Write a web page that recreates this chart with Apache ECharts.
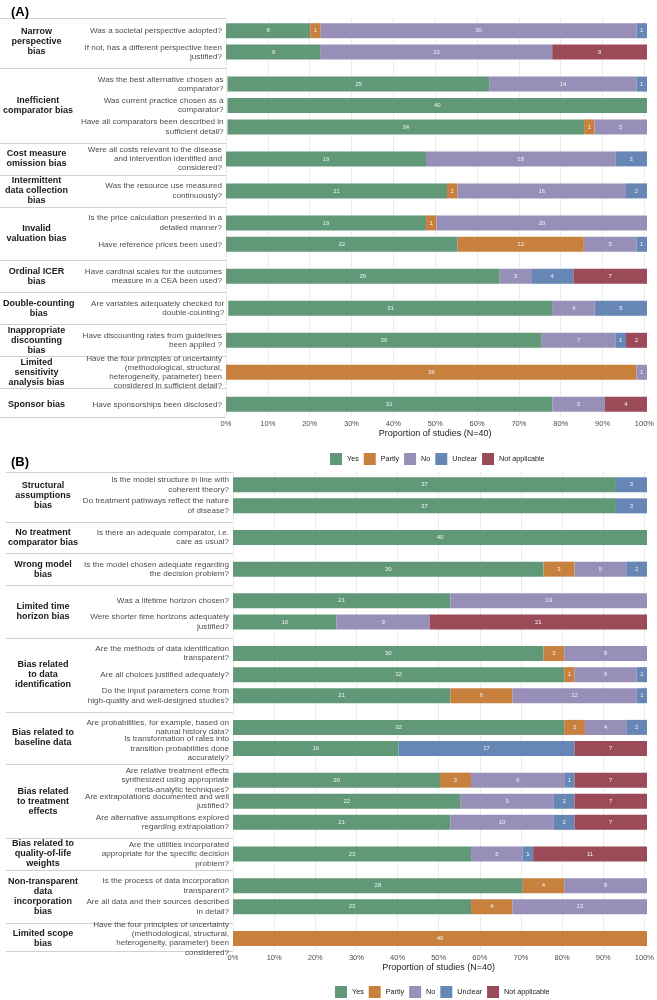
<!DOCTYPE html>
<html><head><meta charset="utf-8">
<script src="https://cdn.jsdelivr.net/npm/echarts@6/dist/echarts.min.js"></script>
<style>html,body{margin:0;padding:0;background:#fff}#c{width:657px;height:1000px}</style>
</head><body><div id="c"></div>
<script>
// ---------- DATA ----------
const N = 40;
const responses = ['Yes', 'Partly', 'No', 'Unclear', 'Not applicable'];
const colors = ['#619877', '#c8803f', '#988fb8', '#6686b6', '#9b4a57'];
const xTickLabels = ['0%','10%','20%','30%','40%','50%','60%','70%','80%','90%','100%'];
const axisTitle = 'Proportion of studies (N=40)';

// Panel A
const facetsA = ['Narrow\nperspective\nbias', 'Inefficient\ncomparator bias', 'Cost measure\nomission bias',
  'Intermittent\ndata collection\nbias', 'Invalid\nvaluation bias', 'Ordinal ICER\nbias', 'Double-counting\nbias',
  'Inappropriate\ndiscounting\nbias', 'Limited\nsensitivity\nanalysis bias', 'Sponsor bias'];
const groupSizeA = [2, 3, 1, 1, 2, 1, 1, 1, 1, 1];
const questionsA = [
  'Was a societal perspective adopted?',
  'If not, has a different perspective been\njustified?',
  'Was the best alternative chosen as\ncomparator?',
  'Was current practice chosen as a\ncomparator?',
  'Have all comparators been described in\nsufficient detail?',
  'Were all costs relevant to the disease\nand intervention identified and\nconsidered?',
  'Was the resource use measured\ncontinuously?',
  'Is the price calculation presented in a\ndetailed manner?',
  'Have reference prices been used?',
  'Have cardinal scales for the outcomes\nmeasure in a CEA been used?',
  'Are variables adequately checked for\ndouble-counting?',
  'Have discounting rates from guidelines\nbeen applied ?',
  'Have the four principles of uncertainty\n(methodological, structural,\nheterogeneity, parameter) been\nconsidered in sufficient detail?',
  'Have sponsorships been disclosed?'
];
const yesA     = [8, 9, 25, 40, 34, 19, 21, 19, 22, 26, 31, 30, 0, 31];
const partlyA  = [1, 0, 0, 0, 1, 0, 1, 1, 12, 0, 0, 0, 39, 0];
const noA      = [30, 22, 14, 0, 5, 18, 16, 20, 5, 3, 4, 7, 1, 5];
const unclearA = [1, 0, 1, 0, 0, 3, 2, 0, 1, 4, 5, 1, 0, 0];
const naA      = [0, 9, 0, 0, 0, 0, 0, 0, 0, 7, 0, 2, 0, 4];

// Panel B
const facetsB = ['Structural\nassumptions\nbias', 'No treatment\ncomparator bias', 'Wrong model\nbias',
  'Limited time\nhorizon bias', 'Bias related\nto data\nidentification', 'Bias related to\nbaseline data',
  'Bias related\nto treatment\neffects', 'Bias related to\nquality-of-life\nweights',
  'Non-transparent\ndata\nincorporation\nbias', 'Limited scope\nbias'];
const groupSizeB = [2, 1, 1, 2, 3, 2, 3, 1, 2, 1];
const questionsB = [
  'Is the model structure in line with\ncoherent theory?',
  'Do treatment pathways reflect the nature\nof disease?',
  'Is there an adequate comparator, i.e.\ncare as usual?',
  'Is the model chosen adequate regarding\nthe decision problem?',
  'Was a lifetime horizon chosen?',
  'Were shorter time horizons adequately\njustified?',
  'Are the methods of data identification\ntransparent?',
  'Are all choices justified adequately?',
  'Do the input parameters come from\nhigh-quality and well-designed studies?',
  'Are probabilities, for example, based on\nnatural history data?',
  'Is transformation of rates into\ntransition probabilities done\naccurately?',
  'Are relative treatment effects\nsynthesized using appropriate\nmeta-analytic techniques?',
  'Are extrapolations documented and well\njustified?',
  'Are alternative assumptions explored\nregarding extrapolation?',
  'Are the utilities incorporated\nappropriate for the specific decision\nproblem?',
  'Is the process of data incorporation\ntransparent?',
  'Are all data and their sources described\nin detail?',
  'Have the four principles of uncertainty\n(methodological, structural,\nheterogeneity, parameter) been\nconsidered?'
];
const yesB     = [37, 37, 40, 30, 21, 10, 30, 32, 21, 32, 16, 20, 22, 21, 23, 28, 23, 0];
const partlyB  = [0, 0, 0, 3, 0, 0, 2, 1, 6, 2, 0, 3, 0, 0, 0, 4, 4, 40];
const noB      = [0, 0, 0, 5, 19, 9, 8, 6, 12, 4, 0, 9, 9, 10, 5, 8, 13, 0];
const unclearB = [3, 3, 0, 2, 0, 0, 0, 1, 1, 2, 17, 1, 2, 2, 1, 0, 0, 0];
const naB      = [0, 0, 0, 0, 0, 21, 0, 0, 0, 0, 7, 7, 7, 7, 11, 0, 0, 0];

// ---------- BUILD ----------
const grids = [], xAxes = [], yAxes = [], series = [], graphics = [];
const qFont = 8.1, fFont = 9;
const FONT = 'Liberation Sans, Arial, sans-serif';

function buildPanel(p) {
  const valsAll = [p.yes, p.partly, p.no, p.unclear, p.na];
  let start = 0, top = p.top;
  const bounds = [];
  p.sizes.forEach((n, f) => {
    const h = n * p.rowH;
    const gi = grids.length;
    grids.push({ left: p.left, right: p.right, top: top, height: h });
    xAxes.push({ gridIndex: gi, type: 'value', min: 0, max: N, show: false });
    const yi = yAxes.length;
    yAxes.push({
      gridIndex: gi, type: 'category', inverse: true, position: 'left',
      data: p.questions.slice(start, start + n),
      axisLine: { show: false }, axisTick: { show: false },
      axisLabel: { interval: 0, hideOverlap: false, fontSize: qFont, lineHeight: 9.3, color: '#4d4d4d', margin: 4, fontFamily: FONT }
    });
    yAxes.push({
      gridIndex: gi, type: 'category', position: 'left', offset: p.left - p.facetX,
      data: [p.facets[f]],
      axisLine: { show: false }, axisTick: { show: false },
      axisLabel: { interval: 0, fontSize: fFont, lineHeight: 10, fontWeight: 'bold', color: '#1a1a1a', align: 'center', margin: 0, fontFamily: FONT }
    });
    responses.forEach((r, k) => {
      series.push({
        type: 'bar', name: r, xAxisIndex: gi, yAxisIndex: yi, stack: 'g' + gi,
        barWidth: 15,
        itemStyle: { color: colors[k] },
        label: {
          show: true, position: 'inside', fontSize: 6, color: '#f2f2f2',
          formatter: d => d.value > 0 ? String(d.value) : ''
        },
        data: valsAll[k].slice(start, start + n)
      });
    });
    bounds.push([top, top + h]);
    start += n;
    top += h + p.gap;
  });
  // frame grid for gridlines and tick labels
  const fi = grids.length;
  grids.push({ left: p.left, right: p.right, top: p.frameTop, bottom: 1000 - p.frameBottom, z: 0 });
  xAxes.push({
    gridIndex: fi, type: 'value', min: 0, max: N, interval: N / 10,
    axisLine: { show: false }, axisTick: { show: false },
    splitLine: { show: true, lineStyle: { color: '#ebebeb', width: 1 } },
    axisLabel: { fontSize: 7.5, color: '#4d4d4d', margin: p.labelMargin, formatter: v => xTickLabels[Math.round(v / N * 10)] },
    name: axisTitle, nameLocation: 'middle', nameGap: p.nameGap,
    nameTextStyle: { fontSize: 9, color: '#1a1a1a' }
  });
  yAxes.push({ gridIndex: fi, type: 'value', show: false });
  // separator lines in the label column
  const ys = [bounds[0][0] - 2];
  for (let i = 1; i < bounds.length; i++) ys.push((bounds[i - 1][1] + bounds[i][0]) / 2);
  ys.push(bounds[bounds.length - 1][1] + 2);
  ys.forEach(y => graphics.push({
    type: 'line', shape: { x1: p.sepX, y1: Math.round(y) + 0.5, x2: p.left, y2: Math.round(y) + 0.5 },
    style: { stroke: '#d0d0d0', lineWidth: 1 }, silent: true
  }));
}

buildPanel({ left: 226, right: 10, top: 20, rowH: 21.4, gap: 10.6, sizes: groupSizeA, questions: questionsA, facets: facetsA,
  yes: yesA, partly: partlyA, no: noA, unclear: unclearA, na: naA, facetX: 36.5, sepX: 0,
  frameTop: 18, frameBottom: 416, labelMargin: 4, nameGap: 13 });
buildPanel({ left: 233, right: 10, top: 474.2, rowH: 21.1, gap: 10.55, sizes: groupSizeB, questions: questionsB, facets: facetsB,
  yes: yesB, partly: partlyB, no: noB, unclear: unclearB, na: naB, facetX: 43, sepX: 6,
  frameTop: 472, frameBottom: 950, labelMargin: 4, nameGap: 13 });

const legendBase = {
  data: responses, orient: 'horizontal', itemWidth: 12, itemHeight: 12, itemGap: 5, padding: 0,
  icon: 'rect', textStyle: { fontSize: 7.2, color: '#1a1a1a' }
};

const option = {
  backgroundColor: '#ffffff',
  animation: false,
  textStyle: { fontFamily: FONT },
  title: [
    { text: '(A)', left: 6, top: 1, textStyle: { fontSize: 13, fontWeight: 'bold', color: '#000' } },
    { text: '(B)', left: 6, top: 451, textStyle: { fontSize: 13, fontWeight: 'bold', color: '#000' } }
  ],
  legend: [
    Object.assign({}, legendBase, { left: 330, top: 453 }),
    Object.assign({}, legendBase, { left: 335, top: 986 })
  ],
  grid: grids, xAxis: xAxes, yAxis: yAxes, series: series,
  graphic: graphics
};

const chart = echarts.init(document.getElementById('c'), null, { renderer: 'canvas' });
chart.setOption(option);
</script>
</body></html>
